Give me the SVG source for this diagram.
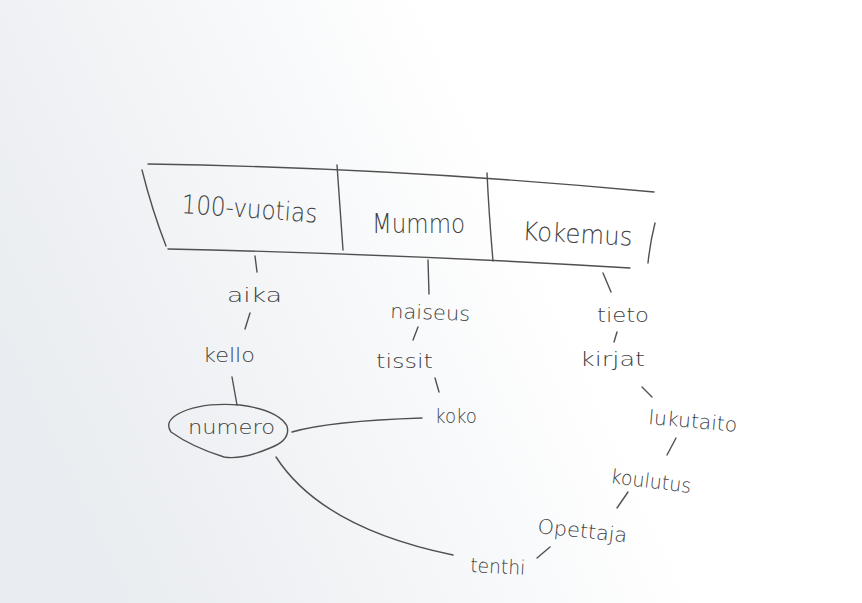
<svg xmlns="http://www.w3.org/2000/svg" width="862" height="603" viewBox="0 0 862 603">
  <defs>
    <linearGradient id="paper" x1="0" y1="0.6" x2="0.62" y2="0.4">
      <stop offset="0" stop-color="#e9ecf0"/>
      <stop offset="0.5" stop-color="#f3f5f7"/>
      <stop offset="1" stop-color="#ffffff"/>
    </linearGradient>
    <style>
      .ink { fill: none; stroke: #505050; stroke-width: 1.4; stroke-linecap: round; stroke-linejoin: round; }
      .big { font-family: "DejaVu Sans", "Liberation Sans", sans-serif; font-weight: 200; font-size: 26px; fill: #404040; }
      .lbl { font-family: "DejaVu Sans", "Liberation Sans", sans-serif; font-weight: 200; font-size: 20px; fill: #404040; }
    </style>
  </defs>
  <rect x="0" y="0" width="862" height="603" fill="url(#paper)"/>

  <g id="header">
    <path class="ink" d="M148,164 Q400,168 654,192"/>
    <path class="ink" d="M142,170 Q152,210 166,246"/>
    <path class="ink" d="M168,249 Q400,254 630,268"/>
    <path class="ink" d="M337,165 Q340,210 343,250"/>
    <path class="ink" d="M487,173 Q489,215 493,261"/>
    <path class="ink" d="M655,223 Q650,243 648,263"/>
  </g>
  <g id="n100vuotias"><text class="big" x="181" y="213" textLength="136" lengthAdjust="spacingAndGlyphs" transform="rotate(4 181 213)">100-vuotias</text></g>
  <g id="mummo"><text class="big" x="372" y="233" textLength="93" lengthAdjust="spacingAndGlyphs">Mummo</text></g>
  <g id="kokemus"><text class="big" x="522" y="240" textLength="110" lengthAdjust="spacingAndGlyphs" transform="rotate(3 522 240)">Kokemus</text></g>

  <g id="aika"><text class="lbl" x="227" y="302" textLength="55" lengthAdjust="spacingAndGlyphs">aika</text></g>
  <g id="kello"><text class="lbl" x="203" y="362" textLength="52" lengthAdjust="spacingAndGlyphs">kello</text></g>
  <g id="numero">
    <path class="ink" d="M178,414 Q200,402 240,405 Q278,410 287,426 Q291,440 270,448 Q242,460 224,457 Q192,447 171,432 Q164,422 178,414 Z"/>
    <text class="lbl" x="188" y="434" textLength="87" lengthAdjust="spacingAndGlyphs">numero</text>
  </g>
  <g id="koko"><text class="lbl" x="435" y="423" textLength="42" lengthAdjust="spacingAndGlyphs">koko</text></g>
  <g id="naiseus"><text class="lbl" x="390" y="318" textLength="80" lengthAdjust="spacingAndGlyphs" transform="rotate(2 390 318)">naiseus</text></g>
  <g id="tissit"><text class="lbl" x="376" y="368" textLength="57" lengthAdjust="spacingAndGlyphs">tissit</text></g>
  <g id="tieto"><text class="lbl" x="597" y="322" textLength="52" lengthAdjust="spacingAndGlyphs">tieto</text></g>
  <g id="kirjat"><text class="lbl" x="580" y="366" textLength="65" lengthAdjust="spacingAndGlyphs">kirjat</text></g>
  <g id="lukutaito"><text class="lbl" x="648" y="424" textLength="89" lengthAdjust="spacingAndGlyphs" transform="rotate(5 648 424)">lukutaito</text></g>
  <g id="koulutus"><text class="lbl" x="610" y="483" textLength="81" lengthAdjust="spacingAndGlyphs" transform="rotate(7 610 483)">koulutus</text></g>
  <g id="opettaja"><text class="lbl" x="537" y="533" textLength="90" lengthAdjust="spacingAndGlyphs" transform="rotate(6 537 533)">Opettaja</text></g>
  <g id="tenthi"><text class="lbl" x="470" y="572" textLength="55" lengthAdjust="spacingAndGlyphs" transform="rotate(3 470 572)">tenthi</text></g>

  <g id="connectors">
    <path class="ink" d="M255,256 L257,272"/>
    <path class="ink" d="M250,313 L245,329"/>
    <path class="ink" d="M232,377 L237,405"/>
    <path class="ink" d="M292,432 Q330,421 422,418"/>
    <path class="ink" d="M276,457 Q322,528 453,555"/>
    <path class="ink" d="M428,260 L429,294"/>
    <path class="ink" d="M418,327 L413,340"/>
    <path class="ink" d="M435,378 L439,392"/>
    <path class="ink" d="M603,273 L611,292"/>
    <path class="ink" d="M617,332 L614,342"/>
    <path class="ink" d="M642,387 L652,397"/>
    <path class="ink" d="M676,438 L667,455"/>
    <path class="ink" d="M628,492 L617,508"/>
    <path class="ink" d="M550,547 L537,558"/>
  </g>
</svg>
